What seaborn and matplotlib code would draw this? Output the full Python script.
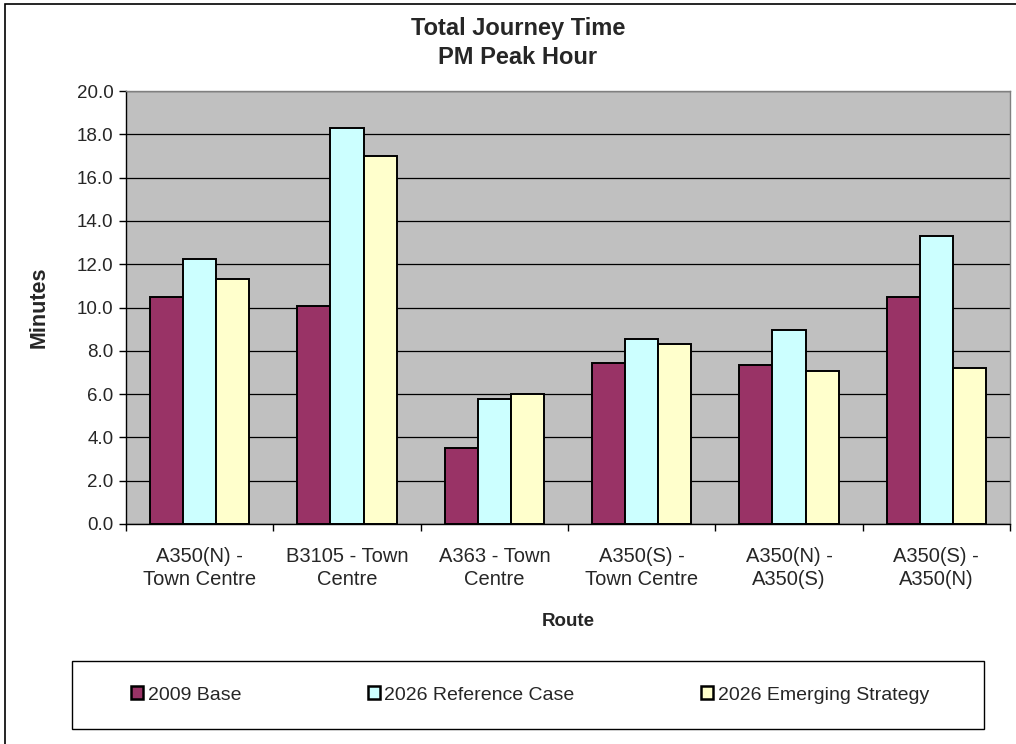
import matplotlib
matplotlib.use('Agg')
import matplotlib.pyplot as plt
from matplotlib.patches import Patch, Rectangle
from matplotlib.ticker import FormatStrFormatter
import pandas as pd
import numpy as np
import seaborn as sns

# chart values
routes = ['A350(N) -\nTown Centre', 'B3105 - Town\nCentre', 'A363 - Town\nCentre',
          'A350(S) -\nTown Centre', 'A350(N) -\nA350(S)', 'A350(S) -\nA350(N)']
scenarios = ['2009 Base', '2026 Reference Case', '2026 Emerging Strategy']
base_2009 = [10.47, 10.08, 3.49, 7.42, 7.33, 10.47]
ref_2026 = [12.24, 18.28, 5.79, 8.56, 8.95, 13.30]
emerging_2026 = [11.32, 17.00, 6.02, 8.31, 7.05, 7.19]
colors = ['#993366', '#CCFFFF', '#FFFFCC']

# long format table for seaborn
df = pd.DataFrame({
    'Route': routes * 3,
    'Scenario': [scenarios[0]] * 6 + [scenarios[1]] * 6 + [scenarios[2]] * 6,
    'Minutes': base_2009 + ref_2026 + emerging_2026,
})

sns.set_style('white')
plt.rcParams['font.family'] = ['Liberation Sans', 'DejaVu Sans']

fig = plt.figure(figsize=(10.16, 7.44), dpi=100)
W, H = 1016, 744
ax = fig.add_axes([126 / W, 1 - 524 / H, (1010 - 126) / W, (524 - 91) / H])

sns.barplot(data=df, x='Route', y='Minutes', hue='Scenario', order=routes,
            hue_order=scenarios, palette=colors, width=0.672, saturation=1,
            edgecolor='black', linewidth=1.4, errorbar=None, ax=ax)
ax.legend_.remove()

# plot area styling like the old excel chart
ax.set_facecolor('#C0C0C0')
ax.set_axisbelow(True)
ax.yaxis.grid(True, color='black', linewidth=0.9)
ax.set_ylim(0, 20)
ax.set_yticks(np.arange(0, 20.1, 2))
ax.yaxis.set_major_formatter(FormatStrFormatter('%.1f'))
ax.set_xlim(-0.5, 5.5)
ax.set_xticks(np.arange(-0.5, 6, 1), minor=True)
ax.tick_params(axis='x', which='major', length=0, pad=16.5, labelsize=14.5)
ax.tick_params(axis='x', which='minor', length=5, width=1, color='black', direction='out', bottom=True)
ax.tick_params(axis='y', length=5, width=1, color='black', direction='out', left=True, labelsize=13.5, pad=4)
for lbl in ax.get_xticklabels():
    lbl.set_linespacing(1.3)
for s in ['left', 'bottom']:
    ax.spines[s].set_color('black')
    ax.spines[s].set_linewidth(1)
for s in ['top', 'right']:
    ax.spines[s].set_color('#808080')
    ax.spines[s].set_linewidth(1)

ax.set_xlabel('Route', fontsize=13.5, fontweight='bold')
ax.xaxis.set_label_coords(0.5, (524 - 622) / 433)
ax.xaxis.label.set_va('center')
ax.set_ylabel('Minutes', fontsize=15.5, fontweight='bold')
ax.yaxis.set_label_coords((39 - 126) / 884, 0.5)
ax.yaxis.label.set_va('center')

# two line title
fig.text(518 / W, 1 - 29 / H, 'Total Journey Time', ha='center', va='center', fontsize=17, fontweight='bold')
fig.text(518 / W, 1 - 57 / H, 'PM Peak Hour', ha='center', va='center', fontsize=17, fontweight='bold')

# legend box
fig.add_artist(Rectangle((72 / W, 1 - 729 / H), (984 - 72) / W, (729 - 661) / H,
                         transform=fig.transFigure, fill=False, edgecolor='black', linewidth=1))
handles = [Patch(facecolor=c, edgecolor='black', linewidth=1.8) for c in colors]
fig.legend(handles, scenarios, loc='center', bbox_to_anchor=(530 / W, 1 - 695 / H), ncol=3,
           frameon=False, fontsize=14, handlelength=0.62, handleheight=0.62,
           handletextpad=0.25, columnspacing=6.5)

# outer chart border (left and top visible)
fig.add_artist(Rectangle((5 / W, -0.1), 1.2, 1.1 - 4 / H, transform=fig.transFigure,
                         fill=False, edgecolor='black', linewidth=1.2, clip_on=False))

plt.savefig('out.png', dpi=100)
